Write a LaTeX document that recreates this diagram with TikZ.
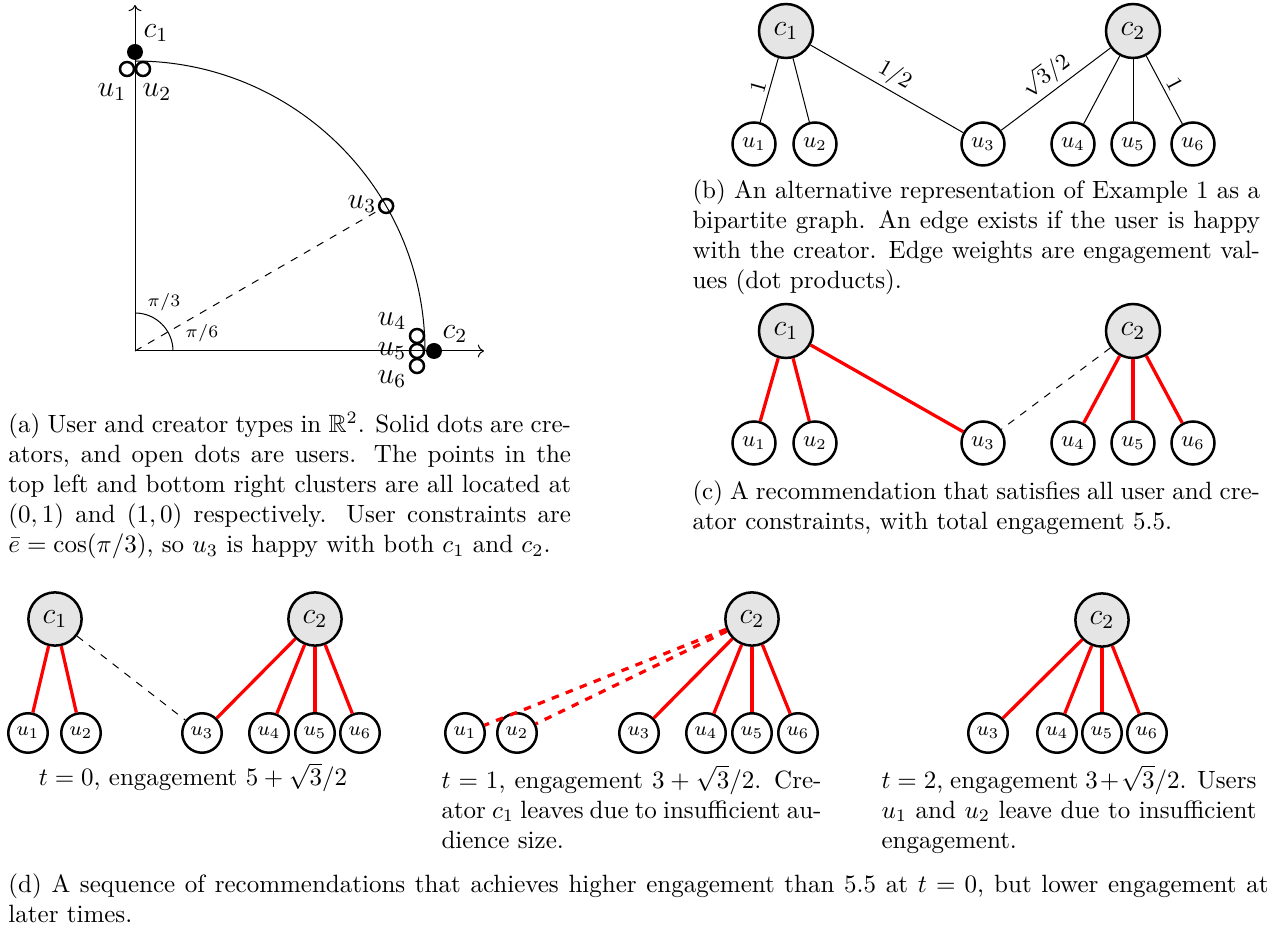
\documentclass[tikz,border=0pt]{standalone}
\usepackage{amsmath, amssymb}
\usepackage{tikz}
\usetikzlibrary{arrows.meta}

\begin{document}
\begin{tikzpicture}[x=0.4pt, y=0.4pt,
  creator/.style={circle, draw, line width=1pt, fill=black!10, minimum size=21.6pt, inner sep=0pt, font=\large},
  user/.style={circle, draw, line width=1pt, minimum size=17.2pt, inner sep=0pt, font=\small},
  tcreator/.style={creator, minimum size=21.3pt},
  tuser/.style={user, minimum size=15.8pt, font=\footnotesize},
  weight/.style={sloped, above, font=\small, inner sep=1.5pt},
  chosen/.style={red, line width=1.3pt},
  dropped/.style={red, line width=1.3pt, dashed},
  unused/.style={dashed},
  cdot/.style={circle, fill=black, minimum size=6.4pt, inner sep=0pt},
  udot/.style={circle, draw, line width=1pt, minimum size=5.6pt, inner sep=0pt},
  caption/.style={anchor=north west, inner sep=0pt, align=justify, text width=#1}
]
\useasboundingbox (0,0) rectangle (1276,-931);

  % (a) types on the unit circle
  \coordinate (O) at (135,-351);
  \draw[->] (O) -- (135,-5);
  \draw[->] (O) -- (484,-351);
  \draw (135,-61) arc[start angle=90, end angle=0, radius=290];
  \draw (173,-351) arc[start angle=0, end angle=90, radius=38];
  \node[cdot] (pc1) at (135,-52) {};
  \node[udot] (pu1) at (127,-69) {};
  \node[udot] (pu2) at (143,-69) {};
  \node[udot] (pu3) at ([shift={(30:290)}]O) {};
  \node[udot] (pu4) at (417,-336) {};
  \node[udot] (pu5) at (417,-351) {};
  \node[udot] (pu6) at (417,-366) {};
  \node[cdot] (pc2) at (434,-351) {};
  \draw[dashed] (O) -- (pu3);
  \node[font=\large] (lc1) at (156,-33) {$c_1$};
  \node[font=\large] (lu1) at (112,-92) {$u_1$};
  \node[font=\large] (lu2) at (157,-92) {$u_2$};
  \node[font=\large] (lu3) at (362,-204) {$u_3$};
  \node[font=\large] (lu4) at (392,-321) {$u_4$};
  \node[font=\large] (lu5) at (392,-351) {$u_5$};
  \node[font=\large] (lu6) at (392,-379) {$u_6$};
  \node[font=\large] (lc2) at (455,-334) {$c_2$};
  \node[font=\scriptsize] (lt3) at (164,-302) {$\pi/3$};
  \node[font=\scriptsize] (lt6) at (202,-333) {$\pi/6$};
  \node[caption=225pt] (capa) at (8,-412) {(a) User and creator types in $\mathbb{R}^2$. Solid dots are cre-\linebreak ators, and open dots are users. The points in the\linebreak top left and bottom right clusters are all located at\linebreak $(0,1)$ and $(1,0)$ respectively. User constraints are\linebreak $\bar{e} = \cos(\pi/3)$, so $u_3$ is happy with both $c_1$ and $c_2$.};

  % (b) bipartite graph with weights
  \node[creator] (bc1) at (786,-31) {$c_1$};
  \node[creator] (bc2) at (1133,-31) {$c_2$};
  \node[user] (bu1) at (754,-144) {$u_1$};
  \node[user] (bu2) at (815,-144) {$u_2$};
  \node[user] (bu3) at (983,-144) {$u_3$};
  \node[user] (bu4) at (1073,-144) {$u_4$};
  \node[user] (bu5) at (1133,-144) {$u_5$};
  \node[user] (bu6) at (1193,-144) {$u_6$};
  \draw (bc1) -- node[weight] {$1$} (bu1);
  \draw (bc1) -- (bu2);
  \draw (bc1) -- node[weight] {$1/2$} (bu3);
  \draw (bc2) -- node[weight] {$\sqrt{3}/2$} (bu3);
  \draw (bc2) -- (bu4);
  \draw (bc2) -- (bu5);
  \draw (bc2) -- node[weight] {$1$} (bu6);
  \node[caption=227pt] (capb) at (692,-179) {(b) An alternative representation of Example 1 as a\linebreak bipartite graph. An edge exists if the user is happy\linebreak with the creator. Edge weights are engagement val-\linebreak ues (dot products).};

  % (c) feasible recommendation
  \node[creator] (cc1) at (786,-331) {$c_1$};
  \node[creator] (cc2) at (1133,-331) {$c_2$};
  \node[user] (cu1) at (754,-443) {$u_1$};
  \node[user] (cu2) at (815,-443) {$u_2$};
  \node[user] (cu3) at (983,-443) {$u_3$};
  \node[user] (cu4) at (1073,-443) {$u_4$};
  \node[user] (cu5) at (1133,-443) {$u_5$};
  \node[user] (cu6) at (1193,-443) {$u_6$};
  \draw[chosen] (cc1) -- (cu1);
  \draw[chosen] (cc1) -- (cu2);
  \draw[chosen] (cc1) -- (cu3);
  \draw[unused] (cc2) -- (cu3);
  \draw[chosen] (cc2) -- (cu4);
  \draw[chosen] (cc2) -- (cu5);
  \draw[chosen] (cc2) -- (cu6);
  \node[caption=227pt] (capc) at (692,-480) {(c) A recommendation that satisfies all user and cre-\linebreak ator constraints, with total engagement 5.5.};

  % (d) t = 0
  \node[tcreator] (d0c1) at (55,-619) {$c_1$};
  \node[tcreator] (d0c2) at (315,-619) {$c_2$};
  \node[tuser] (d0u1) at (28,-733) {$u_1$};
  \node[tuser] (d0u2) at (81,-733) {$u_2$};
  \node[tuser] (d0u3) at (202,-733) {$u_3$};
  \node[tuser] (d0u4) at (269,-733) {$u_4$};
  \node[tuser] (d0u5) at (315,-733) {$u_5$};
  \node[tuser] (d0u6) at (360,-733) {$u_6$};
  \draw[chosen] (d0c1) -- (d0u1);
  \draw[chosen] (d0c1) -- (d0u2);
  \draw[unused] (d0c1) -- (d0u3);
  \draw[chosen] (d0c2) -- (d0u3);
  \draw[chosen] (d0c2) -- (d0u4);
  \draw[chosen] (d0c2) -- (d0u5);
  \draw[chosen] (d0c2) -- (d0u6);
  \node[anchor=base, inner sep=0pt] (capd0) at (193,-786) {$t = 0$, engagement $5 + \sqrt{3}/2$};

  % (d) t = 1
  \node[tcreator] (d1c2) at (752,-619) {$c_2$};
  \node[tuser] (d1u1) at (465,-733) {$u_1$};
  \node[tuser] (d1u2) at (517,-733) {$u_2$};
  \node[tuser] (d1u3) at (639,-733) {$u_3$};
  \node[tuser] (d1u4) at (706,-733) {$u_4$};
  \node[tuser] (d1u5) at (752,-733) {$u_5$};
  \node[tuser] (d1u6) at (798,-733) {$u_6$};
  \draw[dropped] (d1c2) -- (d1u1);
  \draw[dropped] (d1c2) -- (d1u2);
  \draw[chosen] (d1c2) -- (d1u3);
  \draw[chosen] (d1c2) -- (d1u4);
  \draw[chosen] (d1c2) -- (d1u5);
  \draw[chosen] (d1c2) -- (d1u6);
  \node[caption=152pt] (capd1) at (441,-765) {$t = 1$, engagement $3 + \sqrt{3}/2$. Cre-\linebreak ator $c_1$ leaves due to insufficient au-\linebreak dience size.};

  % (d) t = 2
  \node[tcreator] (d2c2) at (1102,-620) {$c_2$};
  \node[tuser] (d2u3) at (988,-733) {$u_3$};
  \node[tuser] (d2u4) at (1057,-733) {$u_4$};
  \node[tuser] (d2u5) at (1102,-733) {$u_5$};
  \node[tuser] (d2u6) at (1147,-733) {$u_6$};
  \draw[chosen] (d2c2) -- (d2u3);
  \draw[chosen] (d2c2) -- (d2u4);
  \draw[chosen] (d2c2) -- (d2u5);
  \draw[chosen] (d2c2) -- (d2u6);
  \node[caption=150pt] (capd2) at (881,-765) {$t = 2$, engagement $3+\sqrt{3}/2$. Users\linebreak $u_1$ and $u_2$ leave due to insufficient\linebreak engagement.};

  \node[caption=504pt] (capd) at (8,-873) {(d) A sequence of recommendations that achieves higher engagement than 5.5 at $t = 0$, but lower engagement at\linebreak later times.};

\end{tikzpicture}
\end{document}
